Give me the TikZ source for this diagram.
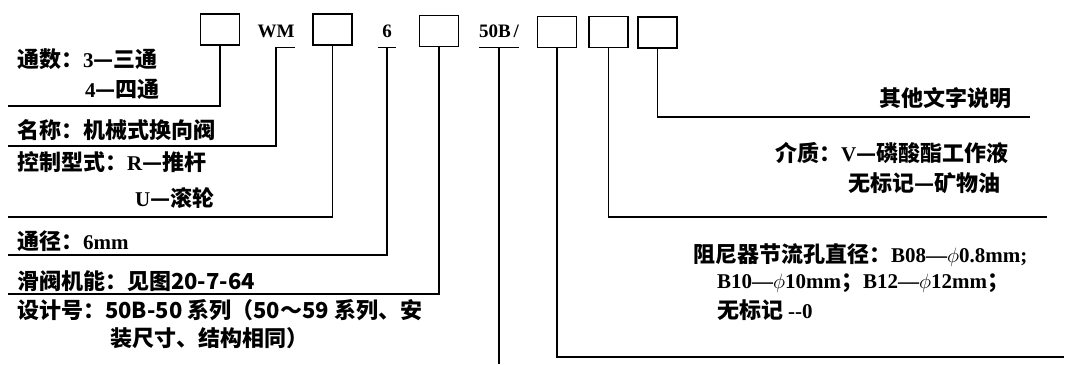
\documentclass[tikz,border=0pt]{standalone}
\usepackage{fontspec}
\setmainfont{Liberation Serif}
\newfontfamily\zh{Noto Sans CJK SC}
\newfontfamily\lat{Liberation Serif}
\newcommand\LT[1]{{\lat\bfseries\fontsize{21}{24}\selectfont #1}}
\tikzset{
  box/.style={draw, line width=1.3pt, minimum width=39pt, minimum height=31pt, inner sep=0pt},
  lead/.style={line width=1.3pt},
  txt/.style={anchor=west, inner sep=0pt, font=\zh\bfseries\fontsize{22}{26}\selectfont},
  code/.style={inner sep=0pt, minimum height=32pt, font=\lat\bfseries\fontsize{19}{22}\selectfont}
}
\begin{document}
\begin{tikzpicture}[x=1pt,y=-1pt]
\useasboundingbox (0,0) rectangle (1070,364);
% top row
\node[box] (b1) at (220,29.5) {};
\node[code] (wm) at (276,31) {WM};
\node[box] (b2) at (332.5,29.5) {};
\node[code, minimum width=18pt] (six) at (387,31) {6};
\node[box] (b3) at (439,31) {};
\node[code] (fifty) at (499,31) {50B\kern3pt/};
\node[box] (b4) at (557,32) {};
\node[box] (b5) at (608.5,32) {};
\node[box] (b6) at (657.5,32.5) {};
% underlines
\draw[lead] (wm.south) -- (wm.south east);
\draw[lead] (six.south west) -- (six.south east);
\draw[lead] (fifty.south west) -- (fifty.south east);
% free ends
\coordinate (e1) at (8,106);
\coordinate (e2) at (8,146);
\coordinate (e3) at (8,217);
\coordinate (e4) at (8,255);
\coordinate (e5) at (8,294);
\coordinate (e6) at (499,364);
\coordinate (e7) at (1064,357);
\coordinate (e8) at (1047,217);
\coordinate (e9) at (1030,117);
% leaders
\draw[lead] (b1.south) |- (e1);
\draw[lead] (wm.south) |- (e2);
\draw[lead] (b2.south) |- (e3);
\draw[lead] (six.south) |- (e4);
\draw[lead] (b3.south) |- (e5);
\draw[lead] (fifty.south) -- (e6);
\draw[lead] (b4.south) |- (e7);
\draw[lead] (b5.south) |- (e8);
\draw[lead] (b6.south) |- (e9);
% left texts
\node[txt] (t1) at (17,59) {通数：\LT{3}—三通};
\node[txt] (t1b) at (85,89) {\LT{4}—四通};
\node[txt] (t2) at (17,130) {名称：机械式换向阀};
\node[txt] (t3) at (17,162) {控制型式：\LT{R}—推杆};
\node[txt] (t3b) at (135,198) {\LT{U}—滚轮};
\node[txt] (t4) at (17,241) {通径：\LT{6mm}};
\node[txt] (t5) at (17,281) {滑阀机能：见图20-7-64};
\node[txt] (t6) at (17,310) {设计号：50B-50 系列（50～59 系列、安};
\node[txt] (t6b) at (110,338) {装尺寸、结构相同）};
% right texts
\node[txt, anchor=east] (r1) at (1012,98) {其他文字说明};
\node[txt] (r2) at (775,153) {介质：\LT{V}—磷酸酯工作液};
\node[txt] (r3) at (848,183) {无标记—矿物油};
\node[txt] (r4) at (693,255) {阻尼器节流孔直径：\LT{B08—$\phi$0.8mm;}};
\node[txt] (r5) at (717,283) {\LT{B10—$\phi$10mm}；\LT{B12—$\phi$12mm}；};
\node[txt] (r6) at (717,310) {无标记 \LT{-{}-0}};
\end{tikzpicture}
\end{document}
